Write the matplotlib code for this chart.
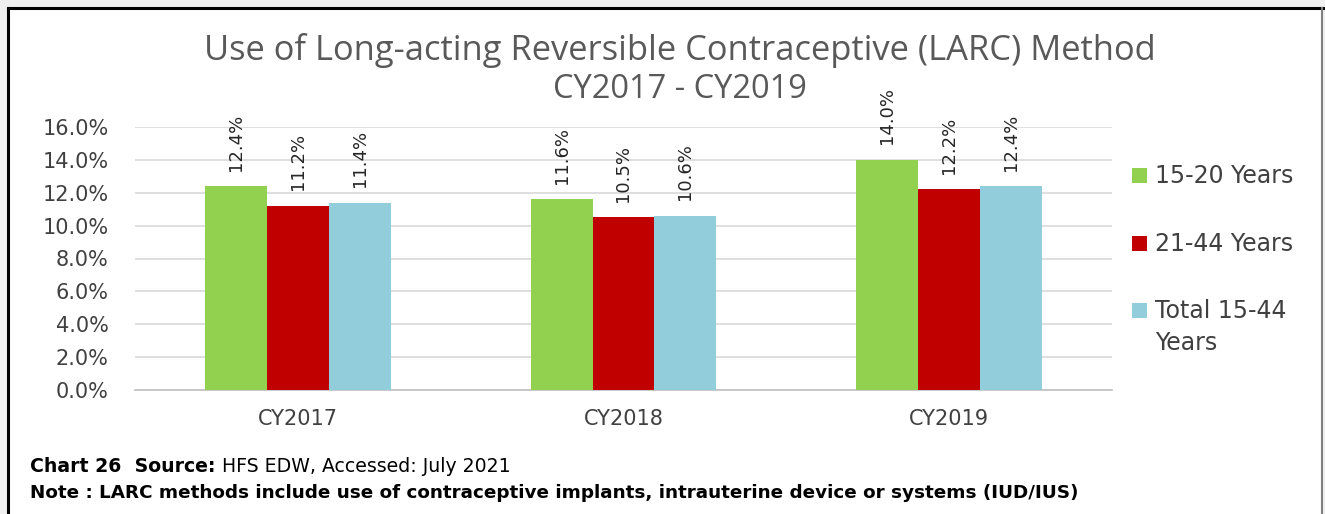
import numpy as np
import matplotlib.pyplot as plt
from matplotlib.patches import Rectangle

years = ['CY2017', 'CY2018', 'CY2019']
series = ['15-20 Years', '21-44 Years', 'Total 15-44\nYears']
age_15_20 = [12.4, 11.6, 14.0]
age_21_44 = [11.2, 10.5, 12.2]
total_15_44 = [11.4, 10.6, 12.4]
colors = ['#92D050', '#C00000', '#92CDDC']

W, H = 1325, 514
fig = plt.figure(figsize=(W / 100, H / 100), dpi=100)
fig.patch.set_facecolor('#f0f0f0')

# white chart area with border
fig.add_artist(Rectangle((8 / W, -0.01), (1322 - 8) / W, (H - 8) / H + 0.01,
                         transform=fig.transFigure, facecolor='white',
                         edgecolor='none', zorder=-10))
fig.add_artist(plt.Line2D([8 / W, 8 / W], [0, (H - 8) / H], transform=fig.transFigure,
                          color='black', lw=2.2))
fig.add_artist(plt.Line2D([8 / W, 1323 / W], [(H - 8) / H, (H - 8) / H],
                          transform=fig.transFigure, color='black', lw=2.2))
fig.add_artist(plt.Line2D([1322 / W, 1322 / W], [0, (H - 8) / H],
                          transform=fig.transFigure, color='#808080', lw=1.5))

# plot area: x 133..1112, y 127(16%)..390(0%)
ax = fig.add_axes([135 / W, (H - 390) / H, (1112 - 135) / W, (390 - 127) / H])
ax.set_facecolor('white')

x = np.arange(len(years))
bw = 0.19
data = [age_15_20, age_21_44, total_15_44]
for i, (vals, col, lab) in enumerate(zip(data, colors, series)):
    pos = x + (i - 1) * bw
    ax.bar(pos, vals, width=bw, color=col, label=lab, zorder=3)
    for px, v in zip(pos, vals):
        ax.text(px, v + 0.95, f'{v:.1f}%', rotation=90, ha='center', va='bottom',
                fontsize=13, color='#262626', zorder=4)

ax.set_xlim(-0.5, 2.5)
ax.set_ylim(0, 16)
ax.set_yticks(np.arange(0, 16.1, 2))
ax.set_yticklabels([f'{t:.1f}%' for t in np.arange(0, 16.1, 2)])
ax.set_xticks(x)
ax.set_xticklabels(years)
ax.yaxis.grid(True, color='#d9d9d9', lw=1.2, zorder=0)
ax.set_axisbelow(True)
for s in ['top', 'right', 'left']:
    ax.spines[s].set_visible(False)
ax.spines['bottom'].set_color('#bfbfbf')
ax.spines['bottom'].set_linewidth(1.2)
ax.tick_params(axis='both', length=0, labelsize=15, colors='#404040')
ax.tick_params(axis='y', pad=19)
ax.tick_params(axis='x', pad=14)

# legend, placed by hand
leg_y = [175, 243, 310]
for col, lab, yy in zip(colors, series, leg_y):
    fig.add_artist(Rectangle((1132 / W, 1 - (yy + 8) / H), 15 / W, 15 / H,
                             transform=fig.transFigure, facecolor=col, edgecolor='none'))
    fig.text(1155 / W, 1 - (yy - 11) / H, lab, ha='left', va='top', fontsize=17,
             color='#404040', linespacing=1.4)

# title
fig.text(680 / W, 1 - 50 / H, 'Use of Long-acting Reversible Contraceptive (LARC) Method',
         ha='center', va='center', fontsize=24.8, color='#595959', family='Open Sans')
fig.text(680 / W, 1 - 89 / H, 'CY2017 - CY2019',
         ha='center', va='center', fontsize=23.5, color='#595959', family='Open Sans')

# footnotes
fig.canvas.draw()
r = fig.canvas.get_renderer()
t1 = fig.text(30 / W, 1 - 466 / H, 'Chart 26  Source: ', ha='left', va='center',
              fontsize=13.6, fontweight='bold', color='black', family='DejaVu Sans')
bb = t1.get_window_extent(renderer=r)
fig.text(bb.x1 / W, 1 - 466 / H, 'HFS EDW, Accessed: July 2021', ha='left', va='center',
         fontsize=13.6, color='black', family='DejaVu Sans')
fig.text(30 / W, 1 - 493 / H,
         'Note : LARC methods include use of contraceptive implants, intrauterine device or systems (IUD/IUS)',
         ha='left', va='center', fontsize=13.2, fontweight='bold', color='black',
         family='DejaVu Sans')

fig.savefig('out.png', dpi=100, facecolor=fig.get_facecolor())
